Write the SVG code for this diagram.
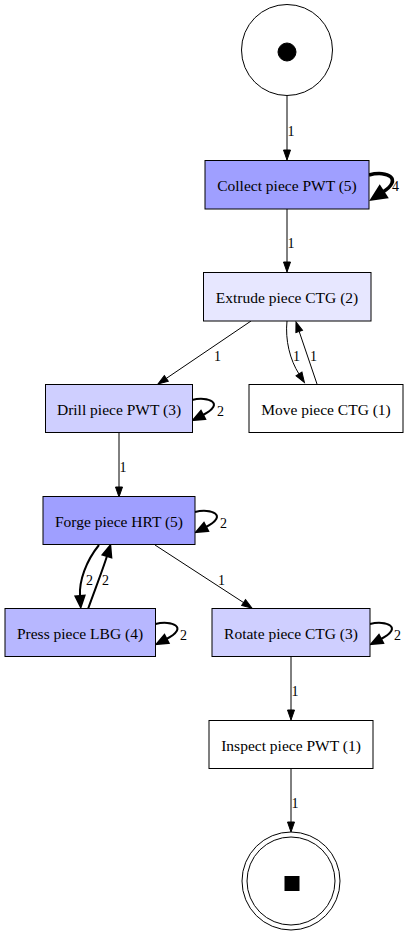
<svg xmlns="http://www.w3.org/2000/svg" width="408" height="936" viewBox="0 0 408 936">
<style>
.n rect,.n circle{stroke:#000;stroke-width:1}
.e path{fill:none;stroke:#000}
.w1{stroke-width:1}
.w2{stroke-width:2}
.w4{stroke-width:3.5}
</style>
<defs>
<marker id="a1" markerUnits="userSpaceOnUse" orient="auto" markerWidth="14" markerHeight="14" refX="0" refY="0" viewBox="-1 -7 14 14" overflow="visible"><path d="M0,-3.5 L10,0 L0,3.5 Z" fill="#000" stroke="#000" stroke-width="1"/></marker>
<marker id="a2" markerUnits="userSpaceOnUse" orient="auto" markerWidth="16" markerHeight="16" refX="0" refY="0" viewBox="-1 -8 16 16" overflow="visible"><path d="M0,-4.5 L11,0 L0,4.5 Z" fill="#000" stroke="#000" stroke-width="2"/></marker>
<marker id="a4" markerUnits="userSpaceOnUse" orient="auto" markerWidth="20" markerHeight="20" refX="0" refY="0" viewBox="-1 -10 20 20" overflow="visible"><path d="M0,-6 L13,0 L0,6 Z" fill="#000" stroke="#000" stroke-width="3"/></marker>
</defs>
<rect width="408" height="936" fill="#fff"/>
<g font-family="'Liberation Serif', 'Times New Roman', serif" font-size="14" fill="#000">
<g id="edges" class="e">
<path class="w1" d="M287,96 L287,150" marker-end="url(#a1)"/>
<text x="287.5" y="136">1</text>
<path class="w4" d="M369,175 C388,170 403,179 383,192" marker-end="url(#a4)"/>
<text x="392" y="191">4</text>
<path class="w1" d="M287,209 L287,262" marker-end="url(#a1)"/>
<text x="287.5" y="248">1</text>
<path class="w1" d="M251,321 L166.3,378.4" marker-end="url(#a1)"/>
<text x="214" y="361">1</text>
<path class="w1" d="M287,321 C285,340 290,360 299,374" marker-end="url(#a1)"/>
<text x="293" y="361">1</text>
<path class="w1" d="M317,384 L299.2,331.5" marker-end="url(#a1)"/>
<text x="310" y="361">1</text>
<path class="w2" d="M192,400 C208,396 226,403 203,415" marker-end="url(#a2)"/>
<text x="217" y="416">2</text>
<path class="w1" d="M119,433 L119,487" marker-end="url(#a1)"/>
<text x="119.5" y="472">1</text>
<path class="w2" d="M195,512 C211,508 229,515 206,527" marker-end="url(#a2)"/>
<text x="220" y="528">2</text>
<path class="w2" d="M99,545 C86,561 79,581 80,596" marker-end="url(#a2)"/>
<text x="86" y="585">2</text>
<path class="w2" d="M88,609 C94,592 102,572 107,556" marker-end="url(#a2)"/>
<text x="102" y="585">2</text>
<path class="w1" d="M155,545 L243.6,602.6" marker-end="url(#a1)"/>
<text x="218" y="585">1</text>
<path class="w2" d="M155.5,624 C171.5,620 189.5,627 166.5,639" marker-end="url(#a2)"/>
<text x="180" y="640">2</text>
<path class="w2" d="M370,624 C386,620 404,627 381,639" marker-end="url(#a2)"/>
<text x="394" y="640">2</text>
<path class="w1" d="M291,657 L291,710" marker-end="url(#a1)"/>
<text x="291.5" y="696">1</text>
<path class="w1" d="M291,769 L291,822" marker-end="url(#a1)"/>
<text x="291.5" y="808">1</text>
</g>
<g id="start" class="n">
<circle cx="287" cy="50" r="45.5" fill="#fff"/>
<circle cx="287" cy="52" r="9" fill="#000" stroke="none"/>
</g>
<g font-size="15.5" text-anchor="middle">
<g id="collect" class="n">
<rect x="205" y="160.5" width="164" height="48.5" fill="#9f9fff"/>
<text x="287" y="191">Collect piece PWT (5)</text>
</g>
<g id="extrude" class="n">
<rect x="203.5" y="272.5" width="167.5" height="48.5" fill="#e7e7ff"/>
<text x="287" y="303">Extrude piece CTG (2)</text>
</g>
<g id="drill" class="n">
<rect x="45.5" y="384.5" width="147" height="48" fill="#cfcfff"/>
<text x="119" y="415">Drill piece PWT (3)</text>
</g>
<g id="move" class="n">
<rect x="249" y="384.5" width="154" height="48" fill="#fff"/>
<text x="326" y="415">Move piece CTG (1)</text>
</g>
<g id="forge" class="n">
<rect x="43" y="496.5" width="152" height="48" fill="#9f9fff"/>
<text x="119" y="527">Forge piece HRT (5)</text>
</g>
<g id="press" class="n">
<rect x="5" y="608.5" width="150.5" height="48" fill="#b7b7ff"/>
<text x="80" y="639">Press piece LBG (4)</text>
</g>
<g id="rotate" class="n">
<rect x="212" y="608.5" width="158" height="48" fill="#cfcfff"/>
<text x="291" y="639">Rotate piece CTG (3)</text>
</g>
<g id="inspect" class="n">
<rect x="209" y="720.5" width="164" height="48" fill="#fff"/>
<text x="291" y="751">Inspect piece PWT (1)</text>
</g>
</g>
<g id="end" class="n">
<circle cx="291" cy="881" r="49" fill="#fff"/>
<circle cx="291" cy="881" r="44" fill="none"/>
<rect x="285" y="876.5" width="14" height="14" fill="#000" stroke="none"/>
</g>
</g>
</svg>
